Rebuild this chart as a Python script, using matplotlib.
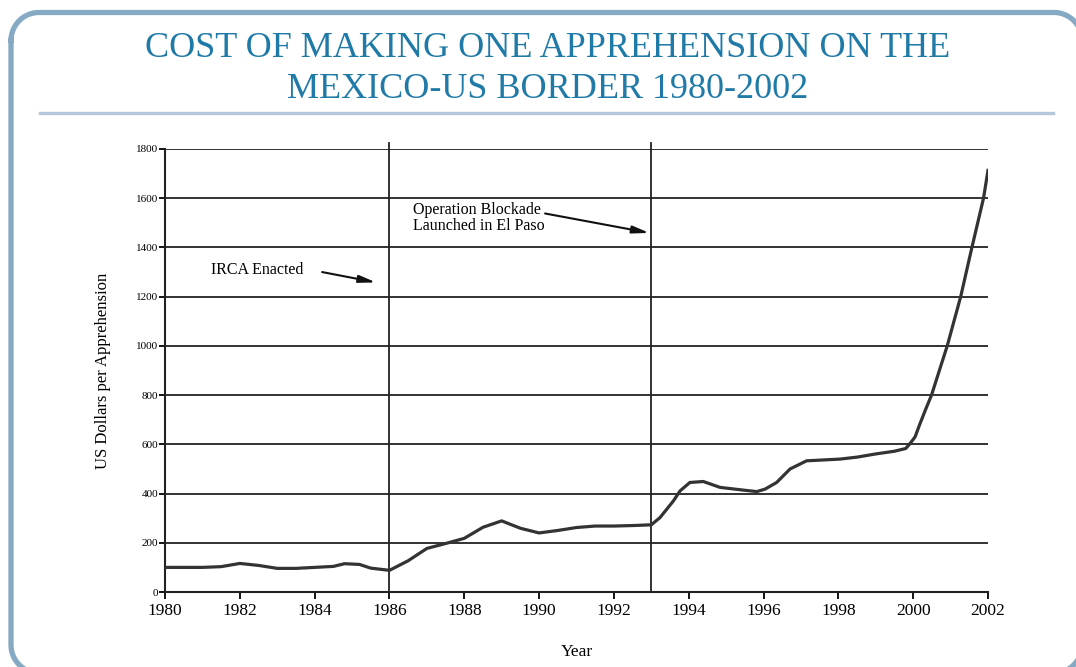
import matplotlib
matplotlib.use("Agg")
from matplotlib import pyplot as plt
import numpy as np

plt.rcParams['font.family'] = ['Liberation Serif', 'DejaVu Serif']

# Cost per apprehension
years = [1980.0, 1981.0, 1981.5, 1982.0, 1982.5, 1983.0, 1983.5, 1984.0, 1984.5, 1984.8,
         1985.2, 1985.5, 1986.0, 1986.5, 1987.0, 1987.5, 1988.0, 1988.5, 1989.0, 1989.5,
         1990.0, 1990.5, 1991.0, 1991.5, 1992.0, 1992.5, 1993.0, 1993.23, 1993.59, 1993.77,
         1994.03, 1994.39, 1994.84, 1995.46, 1995.82, 1996.04, 1996.35, 1996.71, 1997.15, 1998.04,
         1998.5, 1999.0, 1999.5, 1999.8, 1999.9, 2000.05, 2000.18, 2000.32, 2000.49, 2000.91,
         2001.27, 2001.57, 2001.88, 2002.0]
cost = [100, 100, 103, 116, 108, 96, 96, 100, 104, 115,
        112, 97, 88, 127, 177, 197, 218, 263, 289, 259,
        240, 250, 262, 268, 268, 270, 273, 302, 370, 411,
        445, 449, 425, 414, 408, 418, 445, 500, 533, 540,
        548, 561, 572, 583, 600, 630, 683, 737, 800, 1000,
        1200, 1400, 1600, 1713]

x_ticks = list(range(1980, 2003, 2))
y_ticks = list(range(0, 1801, 200))
event_years = [1986, 1993]

title = "COST OF MAKING ONE APPREHENSION ON THE\nMEXICO-US BORDER 1980-2002"
title_color = "#1f7aa8"

W, H = 1076, 667
fig = plt.figure(figsize=(W / 100, H / 100), dpi=100)

# background axes in pixel units (y measured upward) for the frame and title rule
bg = fig.add_axes([0, 0, 1, 1])
bg.set_xlim(0, W)
bg.set_ylim(0, H)
bg.axis("off")


def rounded_rect(x0, y0, x1, y1, r, n=20):
    # clockwise: top-left, top-right, bottom-right, bottom-left corners
    pts = []
    for cx, cy, a0 in [(x0 + r, y1 - r, 180), (x1 - r, y1 - r, 90),
                       (x1 - r, y0 + r, 0), (x0 + r, y0 + r, -90)]:
        t = np.radians(np.linspace(a0, a0 - 90, n))
        pts.append(np.column_stack([cx + r * np.cos(t), cy + r * np.sin(t)]))
    pts = np.vstack(pts + [pts[0][:1]])
    return pts[:, 0], pts[:, 1]


fx, fy = rounded_rect(11, -6, 1082, H - 12.5, 28)
bg.plot(fx, fy, color="#86aac4", linewidth=3.8, clip_on=False, solid_joinstyle="round")
bg.plot([40, 1053], [H - 113, H - 113], color="#b3c9db", linewidth=2.4)
bg.text(548, H - 69, title, ha="center", va="center", color=title_color,
        fontsize=26, linespacing=1.32)

ax = fig.add_axes([165 / W, 75 / H, 823 / W, 443 / H])
ax.plot(years, cost, color="#333333", linewidth=2.3, solid_joinstyle="round", zorder=3)

for yv in y_ticks[1:]:
    ax.axhline(yv, color="#222222", linewidth=1.3, zorder=1)
for ev in event_years:
    ax.plot([ev, ev], [0, 1825], color="#222222", linewidth=1.3, clip_on=False, zorder=2)

ax.set_xlim(1980, 2002)
ax.set_ylim(0, 1800)
ax.set_xticks(x_ticks)
ax.set_yticks(y_ticks)
ax.tick_params(axis="x", labelsize=12.5, direction="out", length=5, width=1.3, pad=3)
ax.tick_params(axis="y", labelsize=8, direction="out", length=4, width=1.3, pad=1)
for side in ["top", "right"]:
    ax.spines[side].set_visible(False)
for side in ["left", "bottom"]:
    ax.spines[side].set_linewidth(1.5)
    ax.spines[side].set_color("#222222")

ax.set_xlabel("Year", fontsize=12.5, labelpad=18)
ax.set_ylabel("US Dollars per Apprehension", fontsize=12, labelpad=18)

arrow = dict(arrowstyle="-|>,head_length=1.0,head_width=0.22", color="#111111",
             lw=1.5, shrinkA=0, shrinkB=0)
ax.text(1983.69, 1308, "IRCA Enacted", fontsize=11.5, ha="right", va="center")
ax.annotate("", xy=(1985.64, 1258), xytext=(1984.2, 1300), arrowprops=arrow)
ax.text(1986.63, 1520, "Operation Blockade\nLaunched in El Paso", fontsize=11.5,
        ha="left", va="center", linespacing=0.95)
ax.annotate("", xy=(1992.95, 1459), xytext=(1990.16, 1538), arrowprops=arrow)

fig.savefig("out.png", dpi=100)
